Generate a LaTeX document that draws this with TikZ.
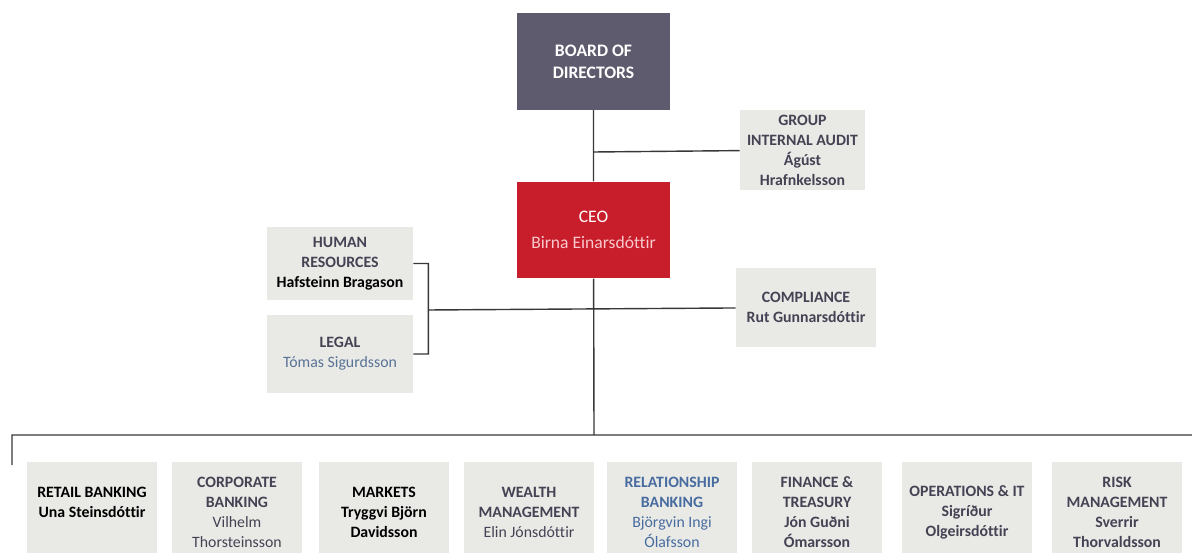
\documentclass[tikz,border=0pt]{standalone}
\usepackage{fontspec}
\setmainfont{Carlito}[Ligatures=NoCommon]
\usetikzlibrary{positioning}
\definecolor{boardgray}{RGB}{94,91,110}
\definecolor{ceored}{RGB}{200,30,44}
\definecolor{ceopink}{RGB}{248,200,204}
\definecolor{boxgray}{RGB}{233,234,230}
\definecolor{txtgray}{RGB}{70,66,84}
\definecolor{txtblue}{RGB}{72,108,160}
\definecolor{linegray}{RGB}{55,55,55}
\tikzset{box/.style={rectangle, fill=boxgray, text=txtgray, align=center, inner sep=2pt, font=\fontsize{9}{11.4}\selectfont\bfseries},
  unit/.style={box, minimum width=2.6cm, minimum height=2cm},
  top/.style={box, text=white, minimum width=3.06cm, minimum height=1.93cm, font=\fontsize{10}{12.5}\selectfont\bfseries},
  ln/.style={draw=linegray, line width=0.8pt}}

\begin{document}
\begin{tikzpicture}[x=0.02cm,y=-0.02cm]
  \useasboundingbox (0,0) rectangle (1192,553);
  % top of the chart
  \node[top, fill=boardgray] (board) at (593.5,61.5) {BOARD OF\\DIRECTORS};
  \node[top, fill=ceored, font=\fontsize{10}{14.5}\selectfont] (ceo) at (593.5,230) {CEO\\\textcolor{ceopink}{Birna Einarsdóttir}};
  \node[box, minimum width=2.5cm, minimum height=1.6cm] (audit) at (802.5,150) {GROUP\\INTERNAL AUDIT\\Ágúst\\Hrafnkelsson};
  \node[box, minimum width=2.8cm, minimum height=1.58cm] (comp) at (806,307.5) {COMPLIANCE\\Rut Gunnarsdóttir};
  \node[box, minimum width=2.92cm, minimum height=1.46cm] (hr) at (340,263.5) {HUMAN\\RESOURCES\\\textcolor{black}{Hafsteinn Bragason}};
  \node[box, minimum width=2.92cm, minimum height=1.56cm] (legal) at (340,354) {LEGAL\\\textcolor{txtblue!70!gray}{\mdseries Tómas Sigurdsson}};
  % business units
  \node[unit, text=black] (retail) at (92,512) {RETAIL BANKING\\Una Steinsdóttir\\\mbox{}};
  \node[unit] (corp) at (237,512) {CORPORATE\\BANKING\\\mdseries Vilhelm\\\mdseries Thorsteinsson};
  \node[unit, text=black] (markets) at (384,512) {MARKETS\\Tryggvi Björn\\Davidsson};
  \node[unit] (wealth) at (529,512) {WEALTH\\MANAGEMENT\\\mdseries Elin Jónsdóttir};
  \node[unit, text=txtblue] (relation) at (672,512) {RELATIONSHIP\\BANKING\\\mdseries Björgvin Ingi\\\mdseries Ólafsson};
  \node[unit] (finance) at (817,512) {FINANCE \&\\TREASURY\\Jón Guðni\\Ómarsson};
  \node[unit] (ops) at (967,512) {OPERATIONS \& IT\\Sigríður\\Olgeirsdóttir};
  \node[unit] (risk) at (1117,512) {RISK\\MANAGEMENT\\Sverrir\\Thorvaldsson};
  % connectors
  \coordinate (j1) at (594,152);
  \coordinate (j2) at (594,310);
  \coordinate (brk) at (428,310);
  \coordinate (bus) at (594,435);
  \coordinate (busL) at (12,435);
  \coordinate (busR) at (1192,435);
  \coordinate (tick) at (12,465);
  \draw[ln] (board) -- (ceo) (ceo) -- (bus) (j1) -- (audit) (brk) -- (comp)
    (hr.east) -- ++(15,0) |- (legal.east)
    (busR) -- (busL) -- (tick);
\end{tikzpicture}
\end{document}
